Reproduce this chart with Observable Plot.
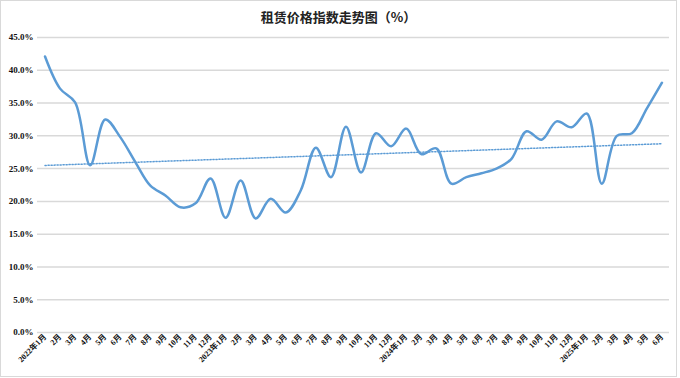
<!DOCTYPE html>
<html><head><meta charset="utf-8">
<script src="https://cdn.jsdelivr.net/npm/d3@7"></script>
<script src="https://cdn.jsdelivr.net/npm/@observablehq/plot@0.6"></script>
<style>
body{margin:0;background:#fff;}
#wrap{width:677px;height:377px;box-sizing:border-box;border:1px solid #d9d9d9;overflow:hidden;font-family:"Liberation Serif","Noto Sans CJK SC",serif;}
#title{height:29px;line-height:32px;text-align:center;font-size:13px;font-weight:bold;color:#222;font-family:"Noto Sans CJK SC",sans-serif;}
#chart svg{display:block;}
</style></head>
<body><div id="wrap"><div id="title">租赁价格指数走势图（%）</div><div id="chart"></div></div>
<script>
const months = ["2022年1月","2月","3月","4月","5月","6月","7月","8月","9月","10月","11月","12月",
  "2023年1月","2月","3月","4月","5月","6月","7月","8月","9月","10月","11月","12月",
  "2024年1月","2月","3月","4月","5月","6月","7月","8月","9月","10月","11月","12月",
  "2025年1月","2月","3月","4月","5月","6月"];
const values = [42.1,37.2,35.1,25.5,32.5,29.8,26.0,22.4,20.9,19.1,19.7,23.5,
  17.5,23.2,17.4,20.4,18.3,21.7,28.2,23.7,31.4,24.4,30.4,28.4,
  31.1,27.2,28.1,22.7,23.7,24.3,25.0,26.5,30.7,29.4,32.2,31.3,
  33.4,22.7,30.0,30.4,34.2,38.1];
const yTicks = [0,5,10,15,20,25,30,35,40,45];

const data = values.map((v, i) => ({i, v}));
const blue = "#5b9bd5";
const font = {fontFamily: "'Liberation Serif','Noto Sans CJK SC',serif", fontWeight: "bold", fill: "#111"};

const chart = Plot.plot({
  width: 675, height: 346,
  marginLeft: 36, marginRight: 7, marginTop: 7, marginBottom: 44,
  style: {fontFamily: "'Liberation Serif','Noto Sans CJK SC',serif", background: "#fff"},
  x: {type: "linear", domain: [-0.5, months.length - 0.5]},
  y: {domain: [0, 45]},
  marks: [
    Plot.gridY(yTicks, {stroke: "#d9d9d9", strokeOpacity: 1, strokeWidth: 1.5}),
    Plot.axisY(yTicks, {tickSize: 0, tickPadding: 4, tickFormat: d => d.toFixed(1) + "%", fontSize: 9, ...font, label: null}),
    Plot.axisX(d3.range(months.length), {tickSize: 0, tickPadding: 3, tickRotate: -45, tickFormat: i => months[i], fontSize: 8, ...font, label: null}),
    Plot.linearRegressionY(data, {x: "i", y: "v", ci: 0, stroke: blue, strokeWidth: 1.5, strokeDasharray: "1.2,1.8"}),
    Plot.line(data, {x: "i", y: "v", curve: "catmull-rom", stroke: blue, strokeWidth: 2.5})
  ]
});
document.getElementById("chart").appendChild(chart);
</script>
</body></html>
